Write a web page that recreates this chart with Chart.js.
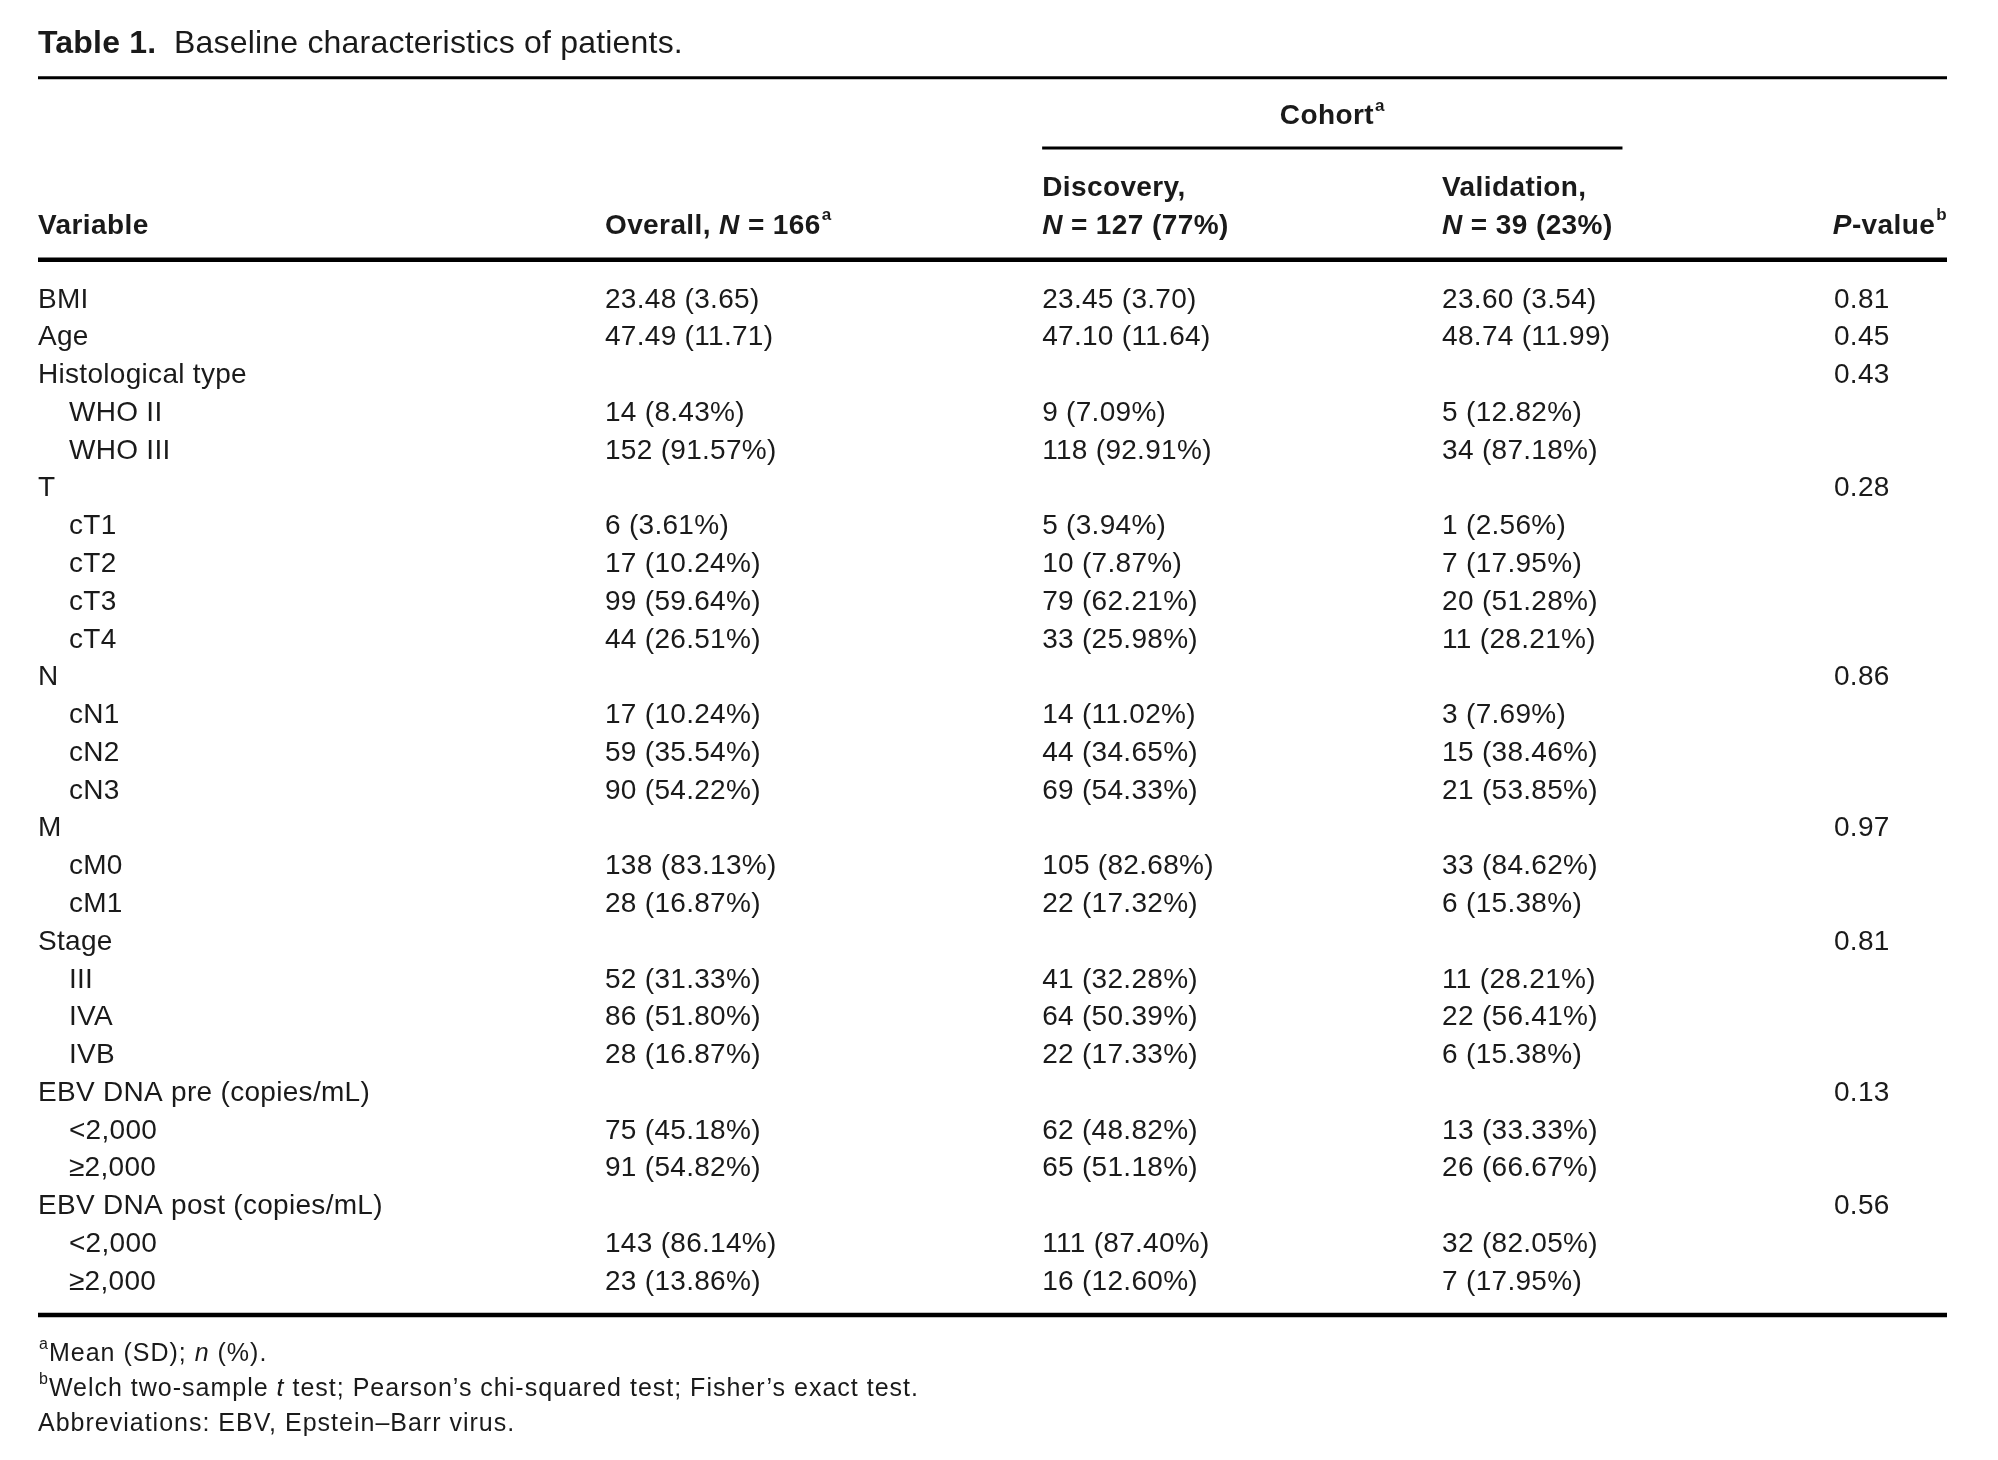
<!DOCTYPE html>
<html>
<head>
<meta charset="utf-8">
<script src="https://cdn.jsdelivr.net/npm/chart.js@4/dist/chart.umd.min.js"></script>
<style>
  html, body { margin: 0; padding: 0; background: #ffffff; }
  #wrap { width: 1998px; height: 1460px; }
</style>
</head>
<body>
<div id="wrap"><canvas id="c" width="1998" height="1460"></canvas></div>
<script>
// ---------------- DATA ----------------
const TITLE_BOLD = 'Table 1.';
const TITLE_TEXT = 'Baseline characteristics of patients.';

const ROW_LABELS = [
  'BMI', 'Age', 'Histological type', 'WHO II', 'WHO III',
  'T', 'cT1', 'cT2', 'cT3', 'cT4',
  'N', 'cN1', 'cN2', 'cN3',
  'M', 'cM0', 'cM1',
  'Stage', 'III', 'IVA', 'IVB',
  'EBV DNA pre (copies/mL)', '<2,000', '\u22652,000',
  'EBV DNA post (copies/mL)', '<2,000', '\u22652,000'
];
const ROW_LEVEL = [0,0,0,1,1, 0,1,1,1,1, 0,1,1,1, 0,1,1, 0,1,1,1, 0,1,1, 0,1,1];

const OVERALL = [
  '23.48 (3.65)', '47.49 (11.71)', '', '14 (8.43%)', '152 (91.57%)',
  '', '6 (3.61%)', '17 (10.24%)', '99 (59.64%)', '44 (26.51%)',
  '', '17 (10.24%)', '59 (35.54%)', '90 (54.22%)',
  '', '138 (83.13%)', '28 (16.87%)',
  '', '52 (31.33%)', '86 (51.80%)', '28 (16.87%)',
  '', '75 (45.18%)', '91 (54.82%)',
  '', '143 (86.14%)', '23 (13.86%)'
];
const DISCOVERY = [
  '23.45 (3.70)', '47.10 (11.64)', '', '9 (7.09%)', '118 (92.91%)',
  '', '5 (3.94%)', '10 (7.87%)', '79 (62.21%)', '33 (25.98%)',
  '', '14 (11.02%)', '44 (34.65%)', '69 (54.33%)',
  '', '105 (82.68%)', '22 (17.32%)',
  '', '41 (32.28%)', '64 (50.39%)', '22 (17.33%)',
  '', '62 (48.82%)', '65 (51.18%)',
  '', '111 (87.40%)', '16 (12.60%)'
];
const VALIDATION = [
  '23.60 (3.54)', '48.74 (11.99)', '', '5 (12.82%)', '34 (87.18%)',
  '', '1 (2.56%)', '7 (17.95%)', '20 (51.28%)', '11 (28.21%)',
  '', '3 (7.69%)', '15 (38.46%)', '21 (53.85%)',
  '', '33 (84.62%)', '6 (15.38%)',
  '', '11 (28.21%)', '22 (56.41%)', '6 (15.38%)',
  '', '13 (33.33%)', '26 (66.67%)',
  '', '32 (82.05%)', '7 (17.95%)'
];
const P_VALUES = [
  '0.81', '0.45', '0.43', '', '',
  '0.28', '', '', '', '',
  '0.86', '', '', '',
  '0.97', '', '',
  '0.81', '', '', '',
  '0.13', '', '',
  '0.56', '', ''
];

// header labels (rich text parts: b = bold, i = italic, s = superscript)
const HEAD_VARIABLE = [{t:'Variable', b:1}];
const HEAD_OVERALL = [{t:'Overall, ', b:1},{t:'N', b:1, i:1},{t:' = 166', b:1},{t:'a', b:1, s:1}];
const HEAD_COHORT = [{t:'Cohort', b:1},{t:'a', b:1, s:1}];
const HEAD_DISC_1 = [{t:'Discovery,', b:1}];
const HEAD_DISC_2 = [{t:'N', b:1, i:1},{t:' = 127 (77%)', b:1}];
const HEAD_VAL_1 = [{t:'Validation,', b:1}];
const HEAD_VAL_2 = [{t:'N', b:1, i:1},{t:' = 39 (23%)', b:1}];
const HEAD_P = [{t:'P', b:1, i:1},{t:'-value', b:1},{t:'b', b:1, s:1}];

const FOOTNOTES = [
  [{t:'a', s:1},{t:'Mean (SD); '},{t:'n', i:1},{t:' (%).'}],
  [{t:'b', s:1},{t:'Welch two-sample '},{t:'t', i:1},{t:' test; Pearson\u2019s chi-squared test; Fisher\u2019s exact test.'}],
  [{t:'Abbreviations: EBV, Epstein\u2013Barr virus.'}]
];

// ---------------- LAYOUT / STYLE ----------------
const FONT = '"Liberation Sans", Arial, sans-serif';
const BODY = { size: 28, spacing: 0.3 };
const HEAD = { size: 28, spacing: 0.4 };
const TITLE = { size: 32, spacing: 0.2 };
const FOOT = { size: 25, spacing: 1.0 };
const TEXT_DY = 3;   // visual centring of text on its row
// x anchors in scale units (0 = left rule end, 1 = right rule end)
const COL = { variable: 0, indent: 0.0162, overall: 0.297, discovery: 0.526, validation: 0.7355, pval: 0.9408, right: 1.0,
              cohortMid: 0.678, cohortL: 0.526, cohortR: 0.830, titleGap: 0.0092 };
// y anchors in row units (row 0 = first data row)
const ROWY = { title: -6.78, topRule: -5.80, cohort: -4.87, cohortRule: -3.94, head1: -2.96, head2: -1.96,
               headRule: -0.98, bottomRule: 26.95, foot: [27.90, 28.82, 29.77] };

function fontOf(p, size) {
  const sz = p.s ? Math.round(size * 0.62) : size;
  return (p.i ? 'italic ' : '') + (p.b ? 'bold ' : '') + sz + 'px ' + FONT;
}
function setSpacing(ctx, sp) { if ('letterSpacing' in ctx) ctx.letterSpacing = sp + 'px'; }
function drawRich(ctx, parts, x, y, st, align) {
  const size = st.size;
  setSpacing(ctx, st.spacing);
  let w = 0;
  parts.forEach(p => { ctx.font = fontOf(p, size); w += ctx.measureText(p.t).width + (p.s ? 1 : 0); });
  let cx = align === 'right' ? x - w : (align === 'center' ? x - w / 2 : x);
  parts.forEach(p => {
    ctx.font = fontOf(p, size);
    ctx.textBaseline = 'middle';
    ctx.textAlign = 'left';
    ctx.fillText(p.t, cx + (p.s ? 1 : 0), (p.s ? y - size * 0.36 : y) + TEXT_DY);
    cx += ctx.measureText(p.t).width + (p.s ? 1 : 0);
  });
  return cx;
}

// datasets: one per column; points positioned by the chart's scales
function colData(values, xKey) {
  const out = [];
  values.forEach((v, r) => { if (v !== '') out.push({ x: COL[xKey], y: r, label: v }); });
  return out;
}
const labelData = ROW_LABELS.map((v, r) => ({ x: ROW_LEVEL[r] ? COL.indent : COL.variable, y: r, label: v }));

const tablePlugin = {
  id: 'tableText',
  afterDatasetsDraw(chart) {
    const ctx = chart.ctx;
    const xs = chart.scales.x, ys = chart.scales.y;
    const X = v => xs.getPixelForValue(v), Y = v => ys.getPixelForValue(v);
    ctx.save();
    ctx.fillStyle = '#1a1a1a';
    // cell texts from dataset element positions
    chart.data.datasets.forEach((ds, di) => {
      const meta = chart.getDatasetMeta(di);
      meta.data.forEach((el, j) => {
        drawRich(ctx, [{t: ds.data[j].label}], el.x, el.y, BODY, 'left');
      });
    });
    // title
    const endBold = drawRich(ctx, [{t: TITLE_BOLD, b:1}], X(COL.variable), Y(ROWY.title), TITLE, 'left');
    drawRich(ctx, [{t: TITLE_TEXT}], endBold + (X(COL.titleGap) - X(0)), Y(ROWY.title), TITLE, 'left');
    // headers
    drawRich(ctx, HEAD_COHORT, X(COL.cohortMid), Y(ROWY.cohort), HEAD, 'center');
    drawRich(ctx, HEAD_DISC_1, X(COL.discovery), Y(ROWY.head1), HEAD, 'left');
    drawRich(ctx, HEAD_VAL_1, X(COL.validation), Y(ROWY.head1), HEAD, 'left');
    drawRich(ctx, HEAD_VARIABLE, X(COL.variable), Y(ROWY.head2), HEAD, 'left');
    drawRich(ctx, HEAD_OVERALL, X(COL.overall), Y(ROWY.head2), HEAD, 'left');
    drawRich(ctx, HEAD_DISC_2, X(COL.discovery), Y(ROWY.head2), HEAD, 'left');
    drawRich(ctx, HEAD_VAL_2, X(COL.validation), Y(ROWY.head2), HEAD, 'left');
    drawRich(ctx, HEAD_P, X(COL.right), Y(ROWY.head2), HEAD, 'right');
    // footnotes
    FOOTNOTES.forEach((f, k) => drawRich(ctx, f, X(COL.variable), Y(ROWY.foot[k]), FOOT, 'left'));
    setSpacing(ctx, 0);
    // rules
    ctx.strokeStyle = '#000000';
    const rule = (x0, x1, y, w) => { ctx.lineWidth = w; ctx.beginPath(); ctx.moveTo(X(x0), Y(y)); ctx.lineTo(X(x1), Y(y)); ctx.stroke(); };
    rule(0, 1, ROWY.topRule, 3);
    rule(COL.cohortL, COL.cohortR, ROWY.cohortRule, 3);
    rule(0, 1, ROWY.headRule, 4.5);
    rule(0, 1, ROWY.bottomRule, 4.5);
    ctx.restore();
  }
};

Chart.defaults.font.family = FONT;
new Chart(document.getElementById('c'), {
  type: 'scatter',
  data: {
    datasets: [
      { label: 'Variable', data: labelData },
      { label: 'Overall', data: colData(OVERALL, 'overall') },
      { label: 'Discovery', data: colData(DISCOVERY, 'discovery') },
      { label: 'Validation', data: colData(VALIDATION, 'validation') },
      { label: 'P-value', data: colData(P_VALUES, 'pval') }
    ]
  },
  options: {
    responsive: false,
    devicePixelRatio: 1,
    animation: false,
    elements: { point: { radius: 0, hoverRadius: 0 } },
    layout: { padding: { left: 38, right: 51, top: 278, bottom: 162 } },
    plugins: { legend: { display: false }, tooltip: { enabled: false }, title: { display: false } },
    events: [],
    scales: {
      x: { type: 'linear', min: 0, max: 1, display: false },
      y: { type: 'linear', min: -0.5, max: 26.5, reverse: true, display: false }
    }
  },
  plugins: [tablePlugin]
});
</script>
</body>
</html>
